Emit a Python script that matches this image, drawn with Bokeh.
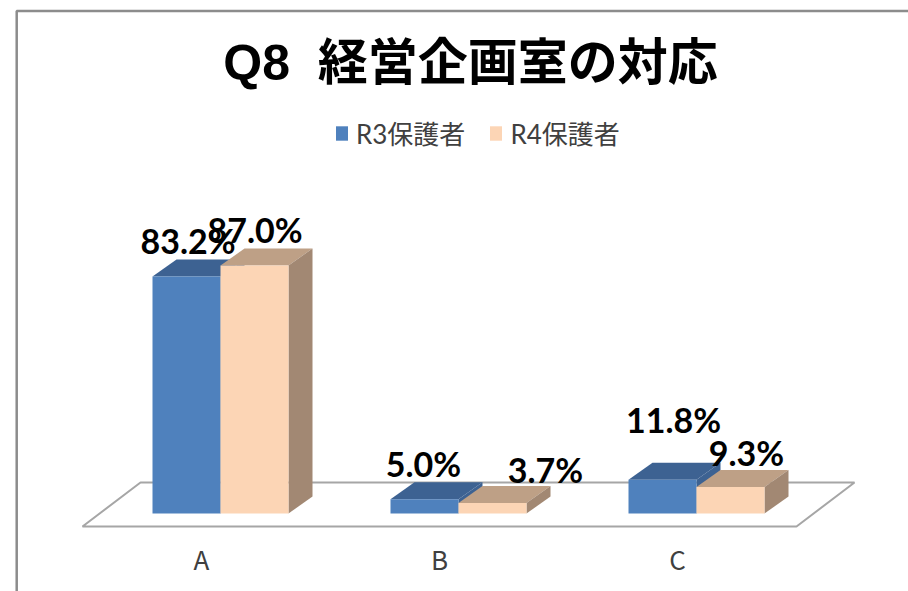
from bokeh.plotting import figure
from bokeh.models import ColumnDataSource, FixedTicker, Label, Legend, LegendItem, Range1d, PolyAnnotation, LinearAxis
from bokeh.core.properties import value
from bokeh.embed import file_html
from bokeh.resources import INLINE

categories = ["A", "B", "C"]
r3_values = [83.2, 5.0, 11.8]
r4_values = [87.0, 3.7, 9.3]
series_names = ["R3保護者", "R4保護者"]
title_text = "Q8\u00a0\u00a0経営企画室の対応"

# layout: pixel scale of the category and value axes
W, H = 908, 591
PX_X, PX_Y = 238.0, 2.85
LEFT0 = 201              # px of category 0 in the frame
BASE0 = 513              # px of value 0 from frame top
FH = H
BAR_W = 68 / PX_X
SHIFT = 19 / PX_X
DX, DY = 24 / PX_X, 17 / PX_Y

p = figure(width=W, height=H, output_backend="svg", toolbar_location=None,
           x_range=Range1d(-LEFT0 / PX_X, (W - LEFT0) / PX_X),
           y_range=Range1d(-(FH - BASE0) / PX_Y, BASE0 / PX_Y),
           min_border_left=0, min_border_right=0, min_border_top=0, min_border_bottom=0,
           outline_line_color=None, x_axis_type=None, y_axis_type=None)
p.xgrid.visible = False
p.ygrid.visible = False

# floor plane
n = len(categories)
fy, bx, by = -13 / PX_Y, 58 / PX_X, 31 / PX_Y
p.patch([-0.5, -0.5 + bx, n - 0.5 + bx, n - 0.5], [fy, by, by, fy],
        fill_color="white", line_color="#A6A6A6", line_width=2)

def bars(vals, off, front, top, side):
    xs = [i + SHIFT + off for i in range(n)]
    l = [x - BAR_W / 2 for x in xs]
    r = [x + BAR_W / 2 for x in xs]
    p.patches([[a, a + DX, b + DX, b] for a, b in zip(l, r)],
              [[v, v + DY, v + DY, v] for v in vals], fill_color=top, line_color=None)
    p.patches([[b, b + DX, b + DX, b] for b in r],
              [[0, DY, v + DY, v] for v in vals], fill_color=side, line_color=None)
    return p.vbar(x=xs, top=vals, bottom=0, width=BAR_W, fill_color=front, line_color=None)

r1 = bars(r3_values, -BAR_W / 2, "#4F81BD", "#3D6292", "#3D6292")
r2 = bars(r4_values, BAR_W / 2, "#FCD5B5", "#BEA086", "#A28873")

# data labels
lx, ly, lt, ox, oy = [], [], [], [], []
LIFT = -14
r3_off = [(1.5, -22), (-1, -21.7), (11, -46.4)]
r4_off = [(0.5, -22), (53, -19.5), (16, -20.5)]
for i in range(n):
    for vals, off, d in ((r3_values, -BAR_W / 2, r3_off), (r4_values, BAR_W / 2, r4_off)):
        lx.append(i + SHIFT + off); ly.append(vals[i]); lt.append(f"{vals[i]:.1f}%")
        ox.append(d[i][0]); oy.append(d[i][1] + LIFT)
p.text(x="x", y="y", text="t", x_offset="ox", y_offset="oy",
       source=ColumnDataSource(dict(x=lx, y=ly, t=lt, ox=ox, oy=oy)),
       text_font=value("Lato"), text_font_style="bold", text_font_size="34px",
       text_align="center", text_baseline="alphabetic", text_color="black")

# category axis
ax = LinearAxis(ticker=FixedTicker(ticks=list(range(n))),
                major_label_overrides={i: c for i, c in enumerate(categories)},
                fixed_location=-(530 - BASE0) / PX_Y)
ax.axis_line_color = None
ax.major_tick_line_color = None
ax.minor_tick_line_color = None
ax.major_tick_in = 0
ax.major_tick_out = 0
ax.major_label_standoff = 9
ax.major_label_text_font = "Noto Sans CJK JP"
ax.major_label_text_font_size = "26px"
ax.major_label_text_color = "#404040"
p.add_layout(ax, "below")

# legend
legend = Legend(items=[LegendItem(label=series_names[0], renderers=[r1]),
                       LegendItem(label=series_names[1], renderers=[r2])],
                orientation="horizontal", location=(334, FH - 151),
                background_fill_alpha=0, border_line_color=None,
                padding=0, margin=0, spacing=23, label_standoff=7,
                glyph_width=15, glyph_height=18,
                label_text_font="Lato, 'Noto Sans CJK JP'",
                label_text_font_size="26px",
                label_text_color="#404040", label_height=18)
p.add_layout(legend, "center")

# title
p.add_layout(Label(x=470, y=FH - 62, x_units="screen", y_units="screen",
                   text=title_text, text_font="'Liberation Sans', 'Noto Sans CJK JP'", text_font_style="bold",
                   text_font_size="50px", text_color="black", text_align="center",
                   text_baseline="alphabetic"))

# chart frame border
p.add_layout(PolyAnnotation(xs=[16.2, 3000, 3000, 16.2], ys=[FH - 10.4, FH - 10.4, -300, -300],
                            xs_units="screen", ys_units="screen",
                            fill_alpha=0, line_color="#8C8C8C", line_alpha=1, line_width=2.5))

open("out.html", "w").write(file_html(p, INLINE))
